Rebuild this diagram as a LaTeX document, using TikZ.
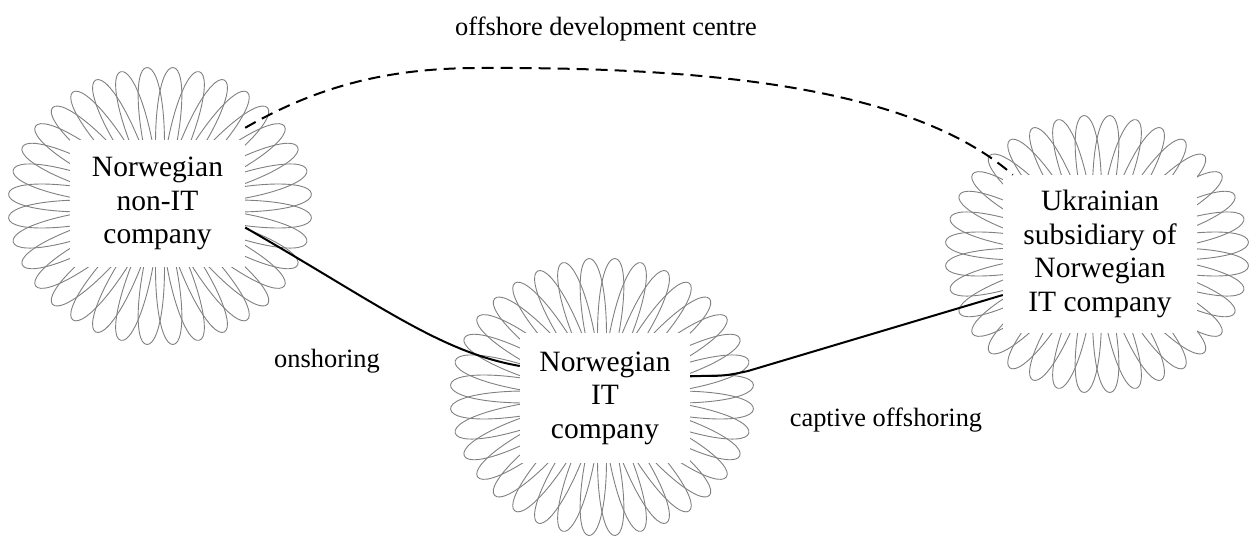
\documentclass[tikz,border=0pt]{standalone}
\usepackage{fontspec}
\setmainfont{Liberation Serif}
\begin{document}
\begin{tikzpicture}[x=1pt,y=-1pt,
  petal/.style={draw=black!50, line width=0.9pt},
  firm/.style={fill=white, inner sep=0pt, align=center,
    font=\fontsize{29.5}{33.5}\selectfont},
  tag/.style={font=\fontsize{26.4}{31}\selectfont, inner sep=0pt, anchor=base},
  link/.style={line width=2pt},
  offlink/.style={link, dash pattern=on 12pt off 7pt}]
\useasboundingbox (0,0) rectangle (1252,536);

% a ring of looped petals around (#1,#2); tips lie on an ellipse
\newcommand\drawpetals[2]{%
  \foreach \a in {5,15,...,355}{%
    \pgfmathsetmacro\tx{152*cos(\a)}%
    \pgfmathsetmacro\ty{139*sin(\a)}%
    \pgfmathsetmacro\ang{atan2(\ty,\tx)}%
    \pgfmathsetmacro\len{veclen(\tx,\ty)}%
    \begin{scope}[shift={(#1,#2)}, rotate=\ang, x=\len pt, y=\len pt]
      \draw[petal] (0,0) .. controls (0.55,0.13) and (1,0.1) .. (1,0)
        .. controls (1,-0.1) and (0.55,-0.13) .. (0,0);
    \end{scope}}}

\drawpetals{160}{206}
\drawpetals{602}{397}
\drawpetals{1097}{254}

% company boxes
\node[firm, minimum width=175pt, minimum height=127pt] (nonit) at (157.5,203.5)
  {Norwegian\\non-IT\\company};
\node[firm, minimum width=170pt, minimum height=130pt] (it) at (605,398)
  {Norwegian\\IT\\company};
\node[firm, minimum width=194pt, minimum height=158pt] (ua) at (1100,254)
  {Ukrainian\\subsidiary of\\Norwegian\\IT company};

% labels
\node[tag] (odc) at (606,35) {offshore development centre};
\node[tag] (on) at (327,367) {onshoring};
\node[tag] (cap) at (886,426) {captive offshoring};

% connectors
\coordinate (apex) at (480,68);
\draw[offlink] ([yshift=12pt]nonit.north east) .. controls (320,85) and (390,68) .. (apex)
  .. controls (700,67) and (910,85) .. ([xshift=10pt]ua.north west);
\draw[link] ([yshift=-24pt]nonit.east) .. controls (380,305) and (440,352) .. ([yshift=32pt]it.west);
\coordinate (bend) at (748,371);
\draw[link] ([yshift=22pt]it.east) .. controls (725,376) .. (bend) -- ([yshift=-41pt]ua.west);
\end{tikzpicture}
\end{document}
